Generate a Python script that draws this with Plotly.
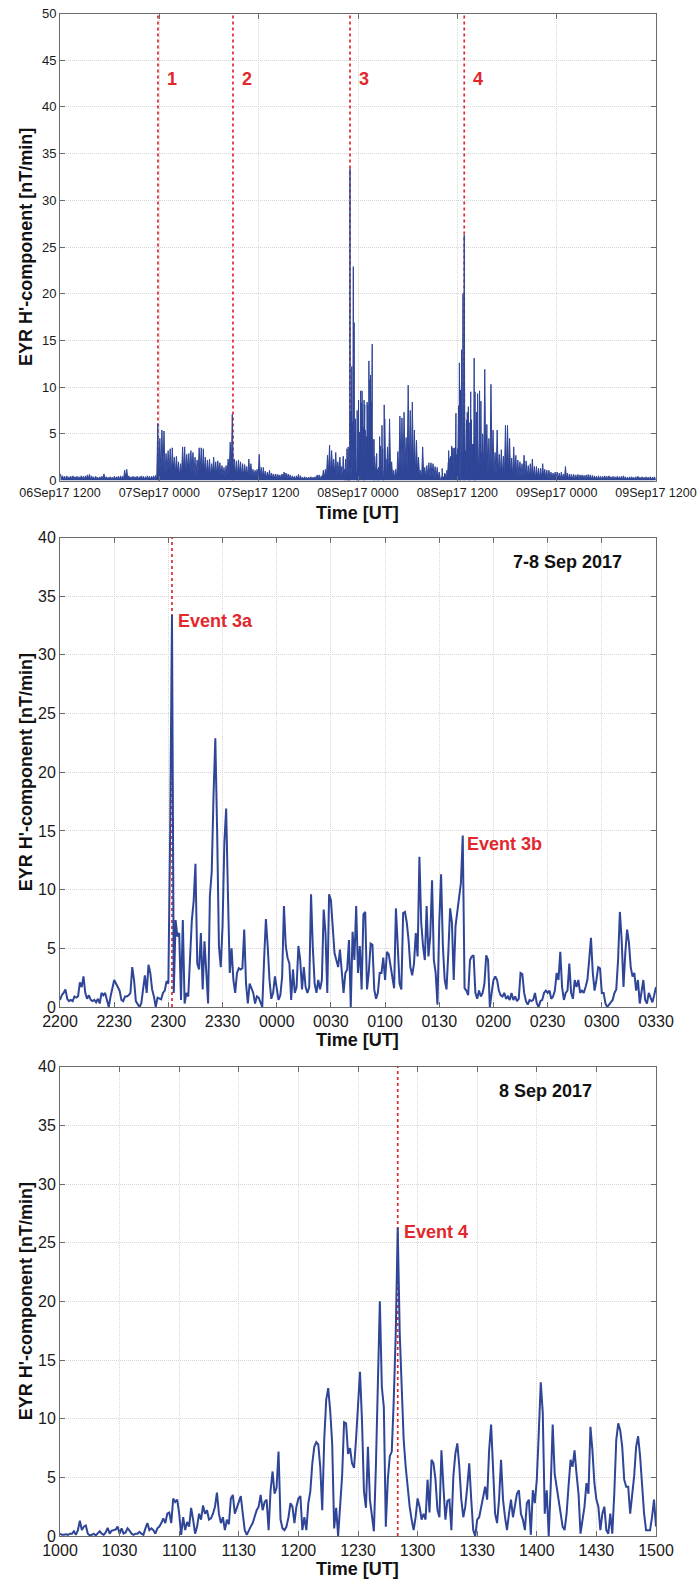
import pandas as pd
import plotly.graph_objects as go

# ---------------------------------------------------------------- data
overview_ticks = ["06Sep17 1200", "07Sep17 0000", "07Sep17 1200", "08Sep17 0000",
                  "08Sep17 1200", "09Sep17 0000", "09Sep17 1200"]
storm_ticks = ["2200", "2230", "2300", "2330", "0000", "0030", "0100",
               "0130", "0200", "0230", "0300", "0330"]
day_ticks = ["1000", "1030", "1100", "1130", "1200", "1230", "1300",
             "1330", "1400", "1430", "1500"]

event_labels = ["1", "2", "3", "4"]
event_times = ["2017-09-06 23:50", "2017-09-07 08:54", "2017-09-07 23:02", "2017-09-08 12:50"]
event_3b_time = "2017-09-08 01:42:30"

# 15-min upper envelope, 06 Sep 12:00 - 07 Sep 22:00
overview_pre_hi = [
    0.7, 0.5, 0.45, 0.5, 0.4, 0.45, 0.5, 0.4, 0.45, 0.4, 0.5, 0.45,
    0.5, 0.6, 0.65, 0.5, 0.4, 0.45, 0.35, 0.4, 0.45, 0.7, 0.4, 0.35,
    0.4, 0.35, 0.45, 0.4, 0.45, 0.5, 0.45, 1.1, 1.2, 0.5, 0.4, 0.45,
    0.4, 0.45, 0.4, 0.5, 0.45, 0.4, 0.5, 0.45, 0.45, 0.5, 0.55, 6.1,
    4.5, 5.4, 5.3, 2.9, 3.2, 3.4, 3.5, 2.5, 2.6, 2.0, 1.8, 3.6,
    3.6, 2.8, 2.9, 3.2, 3.0, 2.5, 2.2, 3.5, 3.5, 3.4, 2.5, 2.2,
    2.3, 1.8, 2.5, 2.0, 2.1, 1.9, 1.6, 1.4, 1.6, 2.3, 4.1, 7.1,
    2.3, 2.1, 2.2, 2.0, 1.8, 1.7, 1.5, 2.3, 1.8, 1.2, 1.1, 1.2,
    2.8, 1.4, 1.4, 1.0, 0.9, 1.1, 0.8, 0.7, 0.7, 0.65, 0.6, 0.7,
    0.9, 0.8, 0.7, 0.6, 0.5, 0.45, 0.5, 0.65, 0.5, 0.35, 0.4, 0.35,
    0.35, 0.4, 0.35, 0.4, 0.6, 0.6, 0.5, 1.1, 1.2, 2.7, 3.8, 3.2,
    2.3, 3.0, 2.0, 2.5]
# 15-min lower envelope, same bins
overview_pre_lo = [
    0.2, 0.15, 0.1, 0.2, 0.15, 0.1, 0.15, 0.2, 0.1, 0.15, 0.2, 0.1,
    0.15, 0.2, 0.1, 0.15, 0.1, 0.2, 0.1, 0.15, 0.2, 0.1, 0.15, 0.1,
    0.2, 0.1, 0.15, 0.2, 0.1, 0.15, 0.2, 0.3, 0.2, 0.15, 0.1, 0.2,
    0.15, 0.1, 0.2, 0.15, 0.1, 0.2, 0.15, 0.1, 0.2, 0.15, 0.2, 0.3,
    0.8, 1.2, 0.6, 0.9, 1.0, 0.5, 1.2, 0.7, 0.9, 0.4, 0.6, 1.0,
    0.5, 1.1, 0.7, 0.9, 0.6, 0.4, 0.8, 1.0, 0.7, 0.9, 0.5, 0.6,
    0.4, 0.8, 0.5, 0.6, 0.7, 0.4, 0.5, 0.3, 0.5, 0.7, 0.9, 1.0,
    0.6, 0.4, 0.7, 0.5, 0.4, 0.6, 0.3, 0.5, 0.4, 0.3, 0.5, 0.3,
    0.5, 0.3, 0.4, 0.3, 0.3, 0.2, 0.3, 0.2, 0.2, 0.3, 0.2, 0.2,
    0.3, 0.2, 0.2, 0.1, 0.2, 0.1, 0.2, 0.1, 0.1, 0.15, 0.1, 0.1,
    0.1, 0.1, 0.15, 0.1, 0.2, 0.1, 0.2, 0.3, 0.3, 0.8, 0.5, 1.0,
    0.6, 0.4, 0.8, 0.5]

# 1-min values, 07 Sep 22:00 - 08 Sep 03:30 (panel 2)
storm_values = [
    0.6, 1.0, 1.2, 1.5, 0.7, 0.5, 0.6, 0.5, 0.9, 0.8,
    0.9, 2.1, 1.7, 2.6, 1.2, 0.7, 1.0, 0.6, 0.5, 0.6,
    0.4, 0.7, 0.3, 1.2, 1.0, 1.2, 0.6, 0.0, 0.9, 1.5,
    2.3, 2.0, 1.7, 1.4, 0.6, 0.5, 0.9, 0.9, 1.0, 1.2,
    3.4, 2.3, 0.5, 0.2, 0.0, 0.3, 1.5, 2.7, 1.2, 3.6,
    2.9, 1.5, 0.9, 0.0, 0.8, 0.7, 0.65, 1.2, 1.4, 2.2,
    2.0, 15.0, 33.4, 1.2, 7.4, 6.0, 6.3, 0.6, 7.4, 0.3,
    1.2, 0.9, 4.0, 7.4, 9.0, 12.2, 3.7, 3.2, 6.3, 1.5,
    5.6, 3.0, 0.3, 9.5, 11.5, 18.0, 22.9, 15.0, 5.2, 3.4,
    6.9, 14.0, 16.9, 9.5, 2.9, 5.0, 2.3, 1.2, 2.9, 3.3,
    3.2, 3.3, 6.6, 2.0, 0.3, 2.0, 1.6, 1.2, 0.3, 0.9,
    0.8, 0.3, 0.0, 4.0, 7.5, 5.2, 2.3, 0.7, 1.2, 2.6,
    1.5, 0.6, 1.0, 2.6, 8.6, 5.2, 4.2, 3.7, 0.6, 3.2,
    1.2, 1.7, 5.2, 4.0, 1.5, 3.4, 1.7, 1.2, 1.7, 9.6,
    5.0, 2.0, 1.2, 2.3, 1.5, 2.3, 8.3, 6.3, 1.2, 9.6,
    9.1, 6.3, 4.6, 4.0, 3.4, 4.9, 2.9, 1.2, 2.9, 3.2,
    5.7, 0.0, 6.4, 4.0, 8.6, 2.9, 5.2, 1.5, 7.9, 8.1,
    1.5, 3.0, 5.4, 5.3, 1.5, 0.7, 1.2, 2.9, 2.9, 4.2,
    2.3, 4.7, 4.5, 3.4, 2.3, 1.6, 8.4, 5.2, 2.0, 1.5,
    8.0, 8.1, 7.2, 5.7, 3.4, 2.7, 3.7, 6.3, 4.3, 12.8,
    7.2, 5.2, 4.0, 8.6, 4.3, 6.0, 10.8, 4.0, 2.9, 0.2,
    7.2, 11.3, 5.2, 2.3, 1.5, 4.6, 8.4, 7.2, 2.3, 6.9,
    8.3, 9.4, 10.6, 14.6, 1.6, 1.4, 1.0, 4.0, 4.3, 4.4,
    1.2, 0.7, 1.4, 0.9, 1.2, 2.0, 4.4, 4.0, 0.0, 1.2,
    2.3, 2.6, 2.3, 1.4, 1.0, 0.9, 1.2, 0.7, 0.9, 0.6,
    1.2, 0.6, 0.9, 0.5, 0.7, 2.9, 2.8, 1.2, 0.5, 0.2,
    0.6, 0.5, 0.6, 1.2, 0.3, 0.0, 0.5, 0.6, 1.2, 1.4,
    1.2, 1.4, 0.7, 0.9, 1.4, 2.9, 2.3, 4.7, 1.7, 0.6,
    1.2, 1.4, 3.7, 1.2, 0.7, 2.3, 1.7, 2.3, 1.2, 1.4,
    1.2, 1.7, 2.3, 4.0, 5.9, 2.9, 1.4, 2.3, 3.4, 3.3,
    1.2, 1.2, 0.3, 0.0, 0.2, 0.3, 0.6, 1.2, 1.5, 4.0,
    8.1, 5.7, 1.7, 4.6, 6.6, 5.5, 3.4, 2.6, 2.9, 1.4,
    2.3, 0.3, 1.4, 2.3, 0.6, 0.3, 1.2, 0.7, 0.4, 1.0,
    1.7]

# 15-min upper / lower envelope, 08 Sep 03:30 - 10:00
overview_mid_hi = [
    3.6, 6.6, 2.0, 1.1, 1.2, 3.1, 6.9, 6.7, 7.3, 4.6, 10.2, 7.5, 8.4,
    5.4, 4.3, 2.5, 1.1, 3.6, 1.4, 1.6, 1.9, 1.9, 1.8, 1.5, 1.4, 0.9]
overview_mid_lo = [
    0.5, 0.9, 0.3, 0.2, 0.3, 0.6, 1.2, 0.8, 1.5, 0.9, 1.8, 1.0, 1.4,
    0.7, 0.9, 0.4, 0.2, 0.5, 0.3, 0.4, 0.3, 0.5, 0.3, 0.2, 0.3, 0.2]

# 1-min values, 08 Sep 10:00 - 15:00 (panel 3)
day_values = [
    0.2, 0.1, 0.1, 0.15, 0.1, 0.2, 0.2, 0.4, 0.1, 0.5,
    1.3, 0.5, 0.8, 0.9, 0.2, 0.05, 0.1, 0.2, 0.05, 0.2,
    0.4, 0.2, 0.1, 0.3, 0.7, 0.2, 0.45, 0.5, 0.55, 0.8,
    0.2, 0.65, 0.2, 0.3, 0.65, 0.45, 0.2, 0.1, 0.2, 0.2,
    0.35, 0.2, 0.1, 0.65, 1.1, 0.5, 0.65, 0.5, 0.2, 0.65,
    0.8, 1.1, 1.5, 1.1, 1.9, 2.0, 1.1, 3.2, 2.9, 3.1,
    1.9, 0.1, 1.6, 0.5, 1.2, 0.8, 2.4, 1.4, 0.2, 0.8,
    1.9, 1.4, 2.6, 1.9, 2.2, 1.4, 1.5, 1.9, 2.5, 3.7,
    1.9, 1.1, 1.6, 0.5, 1.4, 1.0, 3.2, 3.5, 1.9, 2.4,
    3.0, 3.4, 1.9, 0.5, 0.1, 0.5, 0.8, 1.1, 1.7, 2.2,
    2.5, 3.5, 2.2, 2.9, 3.1, 0.5, 3.9, 5.5, 3.6, 4.1,
    7.2, 1.4, 0.65, 0.5, 0.8, 1.6, 2.8, 2.5, 1.1, 2.5,
    3.2, 3.4, 0.5, 1.6, 0.5, 2.8, 3.8, 6.2, 7.6, 8.0,
    7.8, 5.9, 2.2, 8.2, 11.6, 12.6, 10.7, 7.9, 0.65, 2.4,
    0.0, 3.1, 5.1, 9.7, 9.6, 7.0, 7.5, 6.2, 5.8, 8.2,
    11.6, 14.0, 9.9, 3.8, 2.4, 7.6, 3.1, 1.8, 0.4, 5.9,
    14.4, 20.0, 12.7, 11.0, 0.8, 4.8, 6.8, 7.2, 11.6, 17.3,
    26.3, 17.3, 12.7, 8.2, 5.9, 3.9, 2.5, 1.4, 0.5, 1.6,
    3.2, 2.5, 1.4, 1.9, 1.4, 4.8, 2.0, 6.5, 6.2, 4.8,
    2.2, 1.6, 7.3, 4.2, 1.4, 3.0, 3.1, 0.5, 5.1, 7.0,
    7.9, 5.9, 3.1, 1.6, 2.5, 4.2, 6.2, 3.1, 0.5, 0.0,
    1.4, 1.6, 2.5, 3.6, 4.2, 3.1, 7.3, 9.5, 5.9, 1.9,
    1.1, 3.1, 6.5, 3.1, 1.6, 0.5, 1.9, 3.1, 1.6, 2.8,
    3.6, 3.9, 1.9, 1.4, 0.5, 2.8, 3.1, 0.1, 3.9, 2.8,
    4.8, 8.8, 13.1, 10.5, 1.9, 3.9, 0.0, 4.2, 9.5, 5.3,
    4.2, 3.1, 1.9, 0.8, 0.5, 1.9, 4.3, 6.5, 5.9, 7.3,
    5.3, 3.6, 0.2, 1.6, 2.5, 4.5, 3.6, 9.3, 7.3, 4.5,
    3.1, 2.5, 0.5, 1.9, 2.5, 0.5, 0.2, 1.9, 0.2, 3.6,
    8.2, 9.6, 9.0, 7.6, 4.8, 4.2, 4.2, 1.9, 3.4, 5.1,
    7.6, 8.5, 6.8, 4.2, 1.9, 0.5, 0.5, 0.5, 1.6, 3.1,
    0.8]

# 15-min upper / lower envelope, 08 Sep 15:00 - 09 Sep 12:00
overview_post_hi = [
    5.0, 11.9, 6.0, 4.5, 10.3, 5.4, 3.0, 5.4, 2.8, 3.3, 2.6, 5.9,
    5.9, 4.5, 2.4, 3.6, 2.7, 2.2, 2.0, 1.8, 2.7, 2.1, 1.6, 1.8,
    2.3, 1.5, 1.5, 1.3, 1.3, 1.8, 1.2, 1.1, 1.1, 0.9, 0.8, 0.9,
    0.9, 0.8, 0.9, 0.7, 1.5, 0.8, 0.7, 0.65, 0.65, 0.6, 0.65, 0.6,
    0.6, 0.55, 0.6, 0.65, 0.6, 0.55, 0.5, 0.45, 0.5, 0.45, 0.45, 0.5,
    0.45, 0.5, 0.4, 0.45, 0.4, 0.45, 0.4, 0.45, 0.5, 0.4, 0.35, 0.4,
    0.4, 0.35, 0.4, 0.45, 0.35, 0.4, 0.35, 0.4, 0.35, 0.4, 0.35, 0.4]
overview_post_lo = [
    1.0, 1.5, 0.8, 0.6, 1.2, 0.7, 0.5, 0.8, 0.4, 0.6, 0.3, 0.9,
    0.7, 0.5, 0.3, 0.5, 0.4, 0.3, 0.4, 0.3, 0.4, 0.3, 0.2, 0.3,
    0.3, 0.2, 0.3, 0.2, 0.2, 0.3, 0.2, 0.15, 0.2, 0.15, 0.1, 0.2,
    0.15, 0.1, 0.2, 0.1, 0.2, 0.1, 0.15, 0.1, 0.1, 0.15, 0.1, 0.1,
    0.15, 0.1, 0.1, 0.15, 0.1, 0.1, 0.15, 0.1, 0.1, 0.1, 0.15, 0.1,
    0.1, 0.15, 0.1, 0.1, 0.1, 0.15, 0.1, 0.1, 0.15, 0.1, 0.1, 0.1,
    0.15, 0.1, 0.1, 0.15, 0.1, 0.1, 0.1, 0.15, 0.1, 0.1, 0.15, 0.1]


# ---------------------------------------------------------------- series
def envelope(start, hi, lo):
    """Interleave upper / lower envelope values of 15-min bins (two samples per bin)."""
    t = pd.date_range(start, periods=2 * len(hi), freq="450s")
    y = []
    for a, b in zip(hi, lo):
        y += [a, b]
    return list(t), y


x_pre, y_pre = envelope("2017-09-06 12:03:45", overview_pre_hi, overview_pre_lo)
t_storm = pd.date_range("2017-09-07 22:00", periods=len(storm_values), freq="1min")
x_mid, y_mid = envelope("2017-09-08 03:33:45", overview_mid_hi, overview_mid_lo)
t_day = pd.date_range("2017-09-08 10:00", periods=len(day_values), freq="1min")
x_post, y_post = envelope("2017-09-08 15:03:45", overview_post_hi, overview_post_lo)

ov_x = x_pre + list(t_storm) + x_mid + list(t_day) + x_post
ov_y = y_pre + storm_values + y_mid + day_values + y_post

BLUE = "#2f4597"
RED = "#e2282d"
FONT = "Liberation Sans, Arial, sans-serif"

# page body margin is removed (post_script below), so the figure fills the window
OFF = 0
W, H = 699, 1581

# plot areas in screen pixels
XL, XR = 60, 656
panels = [(13.5, 480.5), (537.5, 1007.0), (1066.7, 1536.0)]
yranges = [50, 40, 40]


def px(xs):
    return (xs - OFF) / W


def py(ys):
    return 1 - (ys - OFF) / H


fig = go.Figure()

# red event markers (drawn first, under the data)
ev_x, ev_y = [], []
for t in event_times:
    ev_x += [t, t, None]
    ev_y += [0, yranges[0], None]
red_line = dict(color=RED, width=1.7, dash="dot")
fig.add_trace(go.Scatter(x=ev_x, y=ev_y, mode="lines", line=red_line, xaxis="x", yaxis="y"))
fig.add_trace(go.Scatter(x=[event_times[2]] * 2, y=[0, yranges[1]], mode="lines",
                         line=red_line, xaxis="x2", yaxis="y2"))
fig.add_trace(go.Scatter(x=[event_times[3]] * 2, y=[0, yranges[2]], mode="lines",
                         line=red_line, xaxis="x3", yaxis="y3"))

# panel 1
fig.add_trace(go.Scatter(x=ov_x, y=ov_y, mode="lines", fill="tozeroy",
                         fillcolor=BLUE, line=dict(color=BLUE, width=1),
                         xaxis="x", yaxis="y"))
# panel 2
fig.add_trace(go.Scatter(x=t_storm, y=storm_values, mode="lines",
                         line=dict(color=BLUE, width=2), xaxis="x2", yaxis="y2"))
# panel 3
fig.add_trace(go.Scatter(x=t_day, y=day_values, mode="lines",
                         line=dict(color=BLUE, width=2), xaxis="x3", yaxis="y3"))

annotations = []
for lab, t in zip(event_labels, event_times):
    annotations.append(dict(x=t, y=43, xref="x", yref="y", text="<b>%s</b>" % lab,
                            showarrow=False, xanchor="left", yanchor="middle", xshift=7,
                            font=dict(family=FONT, size=18, color=RED)))
annotations += [
    dict(x=event_times[2], y=32.9, xref="x2", yref="y2", text="<b>Event 3a</b>",
         showarrow=False, xanchor="left", yanchor="middle", xshift=4,
         font=dict(family=FONT, size=18, color=RED)),
    dict(x=event_3b_time, y=13.9, xref="x2", yref="y2", text="<b>Event 3b</b>",
         showarrow=False, xanchor="left", yanchor="middle", xshift=3,
         font=dict(family=FONT, size=18, color=RED)),
    dict(x=event_times[3], y=25.9, xref="x3", yref="y3", text="<b>Event 4</b>",
         showarrow=False, xanchor="left", yanchor="middle", xshift=4,
         font=dict(family=FONT, size=18, color=RED)),
    dict(x=px(511), y=37.9, xref="paper", yref="y2", text="<b>7-8 Sep 2017</b>",
         showarrow=False, xanchor="left", yanchor="middle",
         font=dict(family=FONT, size=18, color="#111111")),
    dict(x=px(497), y=37.95, xref="paper", yref="y3", text="<b>8 Sep 2017</b>",
         showarrow=False, xanchor="left", yanchor="middle",
         font=dict(family=FONT, size=18, color="#111111")),
]
xtitle_y = [513, 1040, 1569]
for (top, bot), ty in zip(panels, xtitle_y):
    annotations.append(dict(x=px((XL + XR) / 2), y=py(ty), xref="paper", yref="paper",
                            text="<b>Time [UT]</b>", showarrow=False, xanchor="center",
                            yanchor="middle", font=dict(family=FONT, size=18, color="#111111")))
    annotations.append(dict(x=px(26), y=py((top + bot) / 2), xref="paper", yref="paper",
                            text="<b>EYR H'-component [nT/min]</b>", showarrow=False,
                            textangle=-90, xanchor="center", yanchor="middle",
                            font=dict(family=FONT, size=18, color="#111111")))

AX = dict(showline=True, linecolor="#6b6b6b", linewidth=1, mirror="ticks",
          ticks="inside", ticklen=5, tickcolor="#6b6b6b", showgrid=True,
          gridcolor="#d6d6d6", griddash="1px,1px", gridwidth=1, zeroline=False,
          automargin=False, ticklabeloverflow="allow")

ov_tickvals = pd.date_range("2017-09-06 12:00", periods=len(overview_ticks), freq="12h")
st_tickvals = pd.date_range("2017-09-07 22:00", periods=len(storm_ticks), freq="30min")
dy_tickvals = pd.date_range("2017-09-08 10:00", periods=len(day_ticks), freq="30min")

xdom = [px(XL), px(XR)]
fig.update_layout(
    width=W, height=H, margin=dict(l=0, r=0, t=0, b=0, pad=0, autoexpand=False),
    paper_bgcolor="white", plot_bgcolor="white", showlegend=False, hovermode=False,
    font=dict(family=FONT, color="#1a1a1a"),
    xaxis=dict(AX, domain=xdom, anchor="y",
               range=[ov_tickvals[0], ov_tickvals[-1]],
               tickvals=ov_tickvals, ticktext=overview_ticks,
               tickfont=dict(family=FONT, size=12.5, color="#1a1a1a")),
    yaxis=dict(AX, domain=[py(panels[0][1]), py(panels[0][0])], anchor="x",
               range=[0, yranges[0]], dtick=5,
               tickfont=dict(family=FONT, size=13, color="#1a1a1a")),
    xaxis2=dict(AX, domain=xdom, anchor="y2",
                range=[st_tickvals[0], st_tickvals[-1]],
                tickvals=st_tickvals, ticktext=storm_ticks,
                tickfont=dict(family=FONT, size=16, color="#1a1a1a")),
    yaxis2=dict(AX, domain=[py(panels[1][1]), py(panels[1][0])], anchor="x2",
                range=[0, yranges[1]], dtick=5,
                tickfont=dict(family=FONT, size=16, color="#1a1a1a")),
    xaxis3=dict(AX, domain=xdom, anchor="y3",
                range=[dy_tickvals[0], dy_tickvals[-1]],
                tickvals=dy_tickvals, ticktext=day_ticks,
                tickfont=dict(family=FONT, size=16, color="#1a1a1a")),
    yaxis3=dict(AX, domain=[py(panels[2][1]), py(panels[2][0])], anchor="x3",
                range=[0, yranges[2]], dtick=5,
                tickfont=dict(family=FONT, size=16, color="#1a1a1a")),
    annotations=annotations,
)

fig.write_html("out.html", config={"displayModeBar": False, "staticPlot": True},
               post_script="document.body.style.margin='0';document.body.style.overflow='hidden';")
